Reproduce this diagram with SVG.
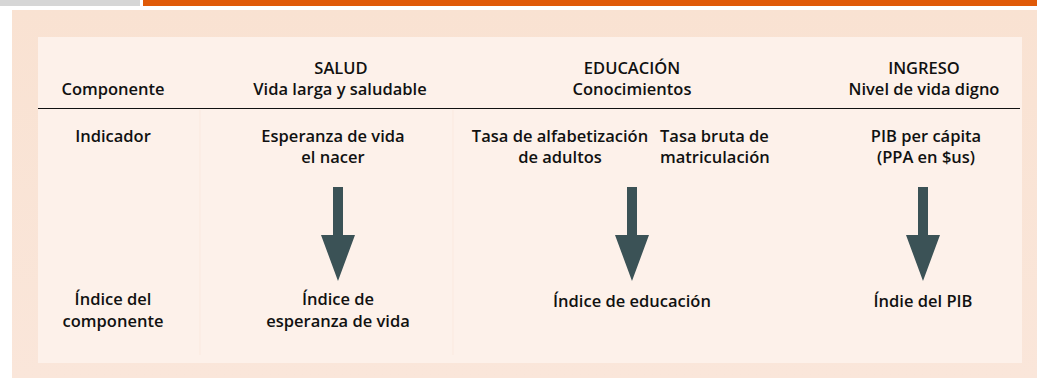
<svg xmlns="http://www.w3.org/2000/svg" width="1037" height="378" viewBox="0 0 1037 378">
<style>
text{font-family:"Open Sans","Noto Sans","DejaVu Sans",sans-serif;font-weight:600;font-size:16.5px;fill:#111;text-anchor:middle}
.l{text-anchor:start}
.arrow{fill:#3b5256}
</style>
<defs>
<linearGradient id="bg" x1="0" y1="0" x2="0" y2="1">
<stop offset="0" stop-color="#f9e2d2"/>
<stop offset="1" stop-color="#fae6da"/>
</linearGradient>
</defs>
<rect width="1037" height="378" fill="#ffffff"/>
<rect x="0" y="0" width="140" height="6" fill="#d6d6d6"/>
<rect x="143" y="0" width="894" height="6" fill="#e05a08"/>
<rect x="12" y="10" width="1025" height="368" fill="url(#bg)"/>
<rect x="38" y="37" width="984" height="326" fill="#fdf1ea"/>
<line x1="200" y1="110" x2="200" y2="355" stroke="#fbe9df" stroke-width="1"/>
<line x1="453" y1="110" x2="453" y2="355" stroke="#fbe9df" stroke-width="1"/>
<line x1="38" y1="108.5" x2="1020" y2="108.5" stroke="#111" stroke-width="1"/>
<g id="col-labels">
<text x="113" y="95">Componente</text>
<text x="113" y="142">Indicador</text>
<text x="113" y="305">Índice del</text>
<text x="113" y="327">componente</text>
</g>
<g id="salud">
<text x="341" y="74">SALUD</text>
<text x="340" y="95">Vida larga y saludable</text>
<text x="333" y="142">Esperanza de vida</text>
<text x="333" y="163">el nacer</text>
<text x="338" y="305">Índice de</text>
<text x="338" y="327">esperanza de vida</text>
</g>
<g id="educacion">
<text x="632" y="74">EDUCACIÓN</text>
<text x="632" y="95">Conocimientos</text>
<text x="560" y="142">Tasa de alfabetización</text>
<text x="560" y="163">de adultos</text>
<text class="l" x="660" y="142">Tasa bruta de</text>
<text class="l" x="660" y="163">matriculación</text>
<text x="632" y="307">Índice de educación</text>
</g>
<g id="ingreso">
<text x="924" y="74">INGRESO</text>
<text x="924" y="95">Nivel de vida digno</text>
<text x="926" y="142">PIB per cápita</text>
<text x="926" y="163">(PPA en $us)</text>
<text x="923" y="307">Índie del PIB</text>
</g>
<g id="connectors">
<path class="arrow" d="M333,187 H343 V235 H355 L338,281 L321,235 H333 Z"/>
<path class="arrow" d="M627,187 H637 V235 H649 L632,281 L615,235 H627 Z"/>
<path class="arrow" d="M918,187 H928 V235 H940 L923,281 L906,235 H918 Z"/>
</g>
</svg>
